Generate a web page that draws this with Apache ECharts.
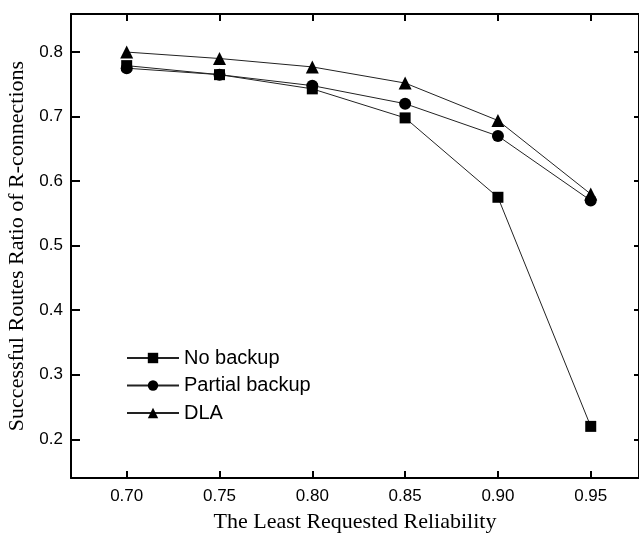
<!DOCTYPE html>
<html><head><meta charset="utf-8">
<script src="https://cdn.jsdelivr.net/npm/echarts@6/dist/echarts.min.js"></script>
<style>html,body{margin:0;padding:0;background:#fff}#c{width:639px;height:533px}</style>
</head><body><div id="c"></div>
<script>
const xValues = [0.70, 0.75, 0.80, 0.85, 0.90, 0.95];
const xTicks = [0.70, 0.75, 0.80, 0.85, 0.90, 0.95];
const yTicks = [0.2, 0.3, 0.4, 0.5, 0.6, 0.7, 0.8];
const noBackup = [0.779, 0.765, 0.743, 0.698, 0.575, 0.220];
const partialBackup = [0.775, 0.765, 0.748, 0.720, 0.670, 0.570];
const dla = [0.800, 0.790, 0.777, 0.752, 0.694, 0.580];
const seriesNames = ['No backup', 'Partial backup', 'DLA'];

const chart = echarts.init(document.getElementById('c'), null, {renderer: 'canvas'});
const pair = arr => xValues.map((x, i) => [x, arr[i]]);
const mk = (name, data, symbol, size) => ({
  name, type: 'line', data: pair(data), symbol, symbolSize: size,
  lineStyle: {color: '#222', width: 1}, itemStyle: {color: '#000'},
  emphasis: {disabled: true}, animation: false, z: 3
});
const axisCommon = {
  type: 'value', min: 0.67, max: 0.976,
  axisLine: {show: true, lineStyle: {color: '#000', width: 2}},
  splitLine: {show: false}
};
chart.setOption({
  animation: false,
  grid: {left: 71, right: 0, top: 14, bottom: 55, outerBoundsMode: 'none', containLabel: false},
  legend: {
    data: seriesNames, orient: 'vertical', left: 121, top: 343,
    itemWidth: 52, itemHeight: 13, itemGap: 7.5,
    textStyle: {fontFamily: 'Liberation Sans, Arial', fontSize: 20, color: '#000'},
    inactiveColor: '#000'
  },
  xAxis: [
    Object.assign({}, axisCommon, {
      position: 'bottom',
      name: 'The Least Requested Reliability', nameLocation: 'middle', nameGap: 33,
      nameTextStyle: {fontFamily: 'Liberation Serif, Times New Roman', fontSize: 22, color: '#000'},
      axisTick: {inside: true, length: 7, customValues: xTicks, lineStyle: {color: '#000', width: 2}},
      axisLabel: {customValues: xTicks, margin: 10, fontFamily: 'Liberation Sans, Arial', fontSize: 17, color: '#000',
        formatter: v => v.toFixed(2)}
    }),
    Object.assign({}, axisCommon, {
      position: 'top',
      axisTick: {inside: true, length: 7, customValues: xTicks, lineStyle: {color: '#000', width: 2}},
      axisLabel: {show: false}
    })
  ],
  yAxis: [
    {
      type: 'value', min: 0.14, max: 0.859, position: 'left',
      axisLine: {show: true, lineStyle: {color: '#000', width: 2}},
      splitLine: {show: false},
      name: 'Successful Routes Ratio of R-connections', nameLocation: 'middle', nameGap: 41,
      nameTextStyle: {fontFamily: 'Liberation Serif, Times New Roman', fontSize: 22, color: '#000'},
      axisTick: {inside: true, length: 9, customValues: yTicks, lineStyle: {color: '#000', width: 2}},
      axisLabel: {customValues: yTicks, margin: 8, fontFamily: 'Liberation Sans, Arial', fontSize: 17, color: '#000',
        formatter: v => v.toFixed(1)}
    },
    {
      type: 'value', min: 0.14, max: 0.859, position: 'right',
      axisLine: {show: true, lineStyle: {color: '#000', width: 2}},
      splitLine: {show: false},
      axisTick: {inside: true, length: 5, customValues: yTicks, lineStyle: {color: '#000', width: 2}},
      axisLabel: {show: false}
    }
  ],
  series: [
    mk(seriesNames[0], noBackup, 'rect', 11),
    mk(seriesNames[1], partialBackup, 'circle', 12),
    mk(seriesNames[2], dla, 'triangle', 13)
  ]
});
</script></body></html>
